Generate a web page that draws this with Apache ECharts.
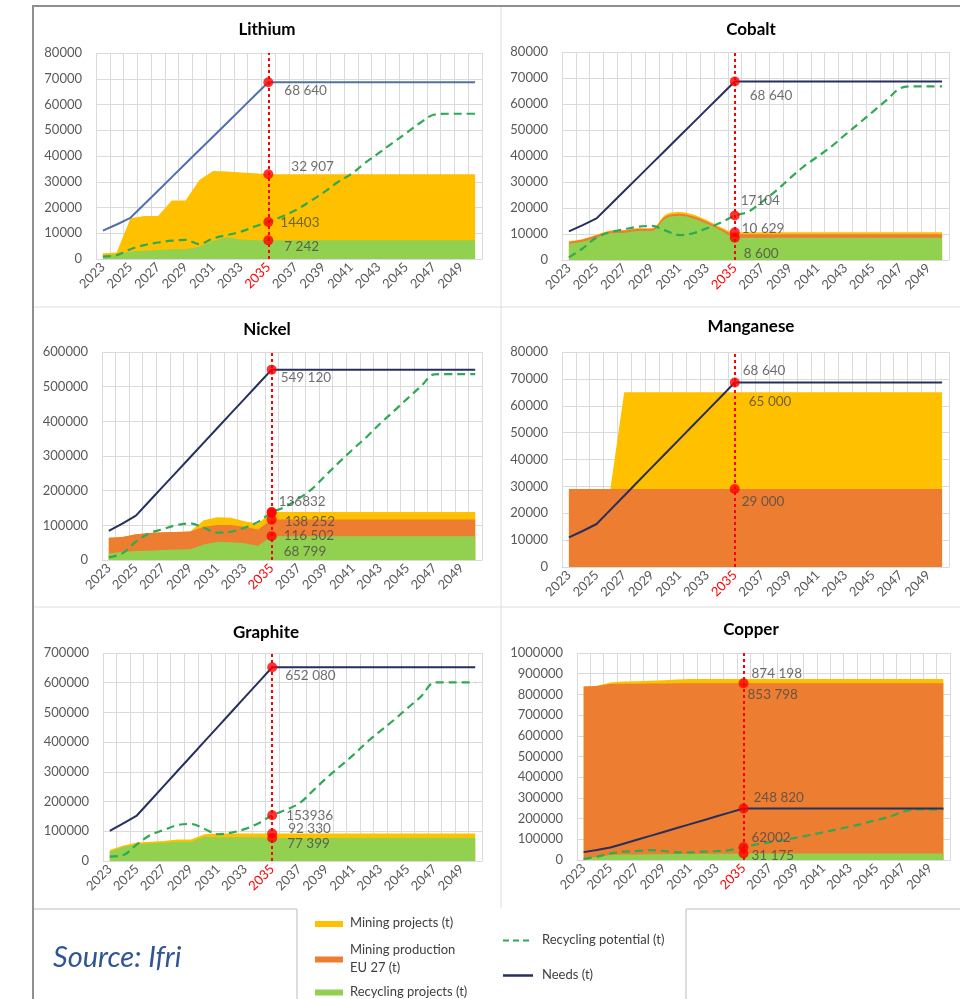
<!DOCTYPE html>
<html>
<head>
<meta charset="utf-8">
<title>Needs vs supply of critical metals, EU</title>
<script src="https://cdn.jsdelivr.net/npm/echarts@6/dist/echarts.min.js"></script>
<style>
  html, body { margin: 0; padding: 0; background: #ffffff; }
  #chart { width: 960px; height: 999px; }
</style>
</head>
<body>
<div id="chart"></div>
<script>
// ---- categories ----
const YEARS = ['2023','2024','2025','2026','2027','2028','2029','2030','2031','2032','2033','2034','2035','2036',
               '2037','2038','2039','2040','2041','2042','2043','2044','2045','2046','2047','2048','2049','2050'];
const MARK_YEAR = '2035';

// ---- Lithium (t) ----
const LI_NEEDS = [11000,13400,16000,21264,26528,31792,37056,42320,47584,52848,58112,63376,68640,68640,
                  68640,68640,68640,68640,68640,68640,68640,68640,68640,68640,68640,68640,68640,68640];
const LI_POTENTIAL = [900,1500,3800,5400,6400,7100,7400,5800,8000,9300,10600,12600,14403,16500,
                      19000,22300,25800,29700,33000,37200,41100,45000,48900,52800,56000,56400,56400,56400];
const LI_RECYCLING = [1500,1800,2900,3200,3500,3800,3800,4800,7100,8400,7600,7300,7242,7242,
                      7242,7242,7242,7242,7242,7242,7242,7242,7242,7242,7242,7242,7242,7242];
const LI_SUPPLY_TOP = [2200,2500,15800,16700,16700,22700,22700,30700,34200,34000,33600,33300,32907,32907,
                       32907,32907,32907,32907,32907,32907,32907,32907,32907,32907,32907,32907,32907,32907];

// ---- Cobalt (t) ----
const CO_NEEDS = [11000,13400,16000,21264,26528,31792,37056,42320,47584,52848,58112,63376,68640,68640,
                  68640,68640,68640,68640,68640,68640,68640,68640,68640,68640,68640,68640,68640,68640];
const CO_POTENTIAL = [1000,4500,8700,10700,11800,12800,13100,11300,9600,10300,12200,14400,17104,18600,
                      22500,26700,31500,36000,39800,43700,48200,52600,57100,61600,66100,66800,66800,66800];
const CO_RECYCLING = [6200,7100,8700,10300,10500,11200,11200,16000,17000,16000,13900,11300,8600,8600,
                      8600,8600,8600,8600,8600,8600,8600,8600,8600,8600,8600,8600,8600,8600];
const CO_EU_TOP = [7000,7900,9500,11100,11300,12000,12000,16800,17800,16800,14700,12100,9900,9900,
                   9900,9900,9900,9900,9900,9900,9900,9900,9900,9900,9900,9900,9900,9900];
const CO_SUPPLY_TOP = [7200,8100,9700,11300,11500,12200,12200,17500,18500,17500,15300,12600,10629,10629,
                       10629,10629,10629,10629,10629,10629,10629,10629,10629,10629,10629,10629,10629,10629];

// ---- Nickel (t) ----
const NI_NEEDS = [84000,105000,128000,170112,212224,254336,296448,338560,380672,422784,464896,507008,549120,549120,
                  549120,549120,549120,549120,549120,549120,549120,549120,549120,549120,549120,549120,549120,549120];
const NI_POTENTIAL = [7700,19000,52800,76800,89000,100800,105600,93000,78700,81600,93000,110000,136832,153600,
                      177600,206000,244800,283000,320000,355000,393600,429000,465600,501000,535700,536000,536000,536000];
const NI_RECYCLING = [19000,24000,26000,27000,29000,30000,31000,45000,53000,51000,48000,41000,68799,68799,
                      68799,68799,68799,68799,68799,68799,68799,68799,68799,68799,68799,68799,68799,68799];
const NI_EU_TOP = [64000,66000,74000,78000,80000,81000,82000,96000,101000,101000,96000,88000,116502,116502,
                   116502,116502,116502,116502,116502,116502,116502,116502,116502,116502,116502,116502,116502,116502];
const NI_SUPPLY_TOP = [64000,66000,74000,78000,80000,81000,82000,115000,123000,122000,112000,105600,138252,138252,
                       138252,138252,138252,138252,138252,138252,138252,138252,138252,138252,138252,138252,138252,138252];

// ---- Manganese (t) ----
const MN_NEEDS = [11000,13400,16000,21264,26528,31792,37056,42320,47584,52848,58112,63376,68640,68640,
                  68640,68640,68640,68640,68640,68640,68640,68640,68640,68640,68640,68640,68640,68640];
const MN_EU_TOP = [29000,29000,29000,29000,29000,29000,29000,29000,29000,29000,29000,29000,29000,29000,
                   29000,29000,29000,29000,29000,29000,29000,29000,29000,29000,29000,29000,29000,29000];
const MN_SUPPLY_TOP = [29000,29000,29000,29000,65000,65000,65000,65000,65000,65000,65000,65000,65000,65000,
                       65000,65000,65000,65000,65000,65000,65000,65000,65000,65000,65000,65000,65000,65000];

// ---- Graphite (t) ----
const GR_NEEDS = [101000,127000,153000,202908,252816,302724,352632,402540,452448,502356,552264,602172,652080,652080,
                  652080,652080,652080,652080,652080,652080,652080,652080,652080,652080,652080,652080,652080,652080];
const GR_POTENTIAL = [14600,20000,56000,87600,104500,121000,124700,108000,90000,95500,108000,127000,153936,172000,
                      194000,236000,278700,318000,357000,400000,438000,475000,514600,554000,601000,601000,601000,601000];
const GR_RECYCLING = [31000,48000,56000,59600,61800,65000,65000,82000,80000,80000,80000,80000,77399,77399,
                      77399,77399,77399,77399,77399,77399,77399,77399,77399,77399,77399,77399,77399,77399];
const GR_SUPPLY_TOP = [37000,52000,62000,65000,67000,72000,72000,90000,92330,92330,92330,92330,92330,92330,
                       92330,92330,92330,92330,92330,92330,92330,92330,92330,92330,92330,92330,92330,92330];

// ---- Copper (t) ----
const CU_NEEDS = [38000,48000,60000,78882,97764,116646,135528,154410,173292,192174,211056,229938,248820,248820,
                  248820,248820,248820,248820,248820,248820,248820,248820,248820,248820,248820,248820,248820,248820];
const CU_POTENTIAL = [5000,16000,32000,40000,43500,48000,43500,37000,37000,40000,43500,48000,62002,75800,
                      85500,96800,108000,121000,134000,148000,161000,177000,193500,209700,234000,244000,245000,245000];
const CU_RECYCLING = [8000,16000,24000,26000,27000,27500,28000,28500,29000,29500,30000,30500,31175,31175,
                      31175,31175,31175,31175,31175,31175,31175,31175,31175,31175,31175,31175,31175,31175];
const CU_EU_TOP = [838000,840000,850000,852000,852000,852500,853000,853500,853798,853798,853798,853798,853798,853798,
                   853798,853798,853798,853798,853798,853798,853798,853798,853798,853798,853798,853798,853798,853798];
const CU_SUPPLY_TOP = [838000,842000,858000,862000,864000,866000,868000,872000,874198,874198,874198,874198,874198,874198,
                       874198,874198,874198,874198,874198,874198,874198,874198,874198,874198,874198,874198,874198,874198];

// ---- styling ----
const FONT = 'Lato, "Open Sans", sans-serif';
const C_PROJECTS = '#FFC000';
const C_EU = '#ED7D31';
const C_RECYCLING = '#92D050';
const C_POTENTIAL = '#2EAA55';
const C_NEEDS = '#25305E';
const C_MARK = '#FF0000';
const C_GRID = '#DADADA';
const C_AXIS_TEXT = '#595959';
const IDX = YEARS.indexOf(MARK_YEAR);

// 2035 annotations: which series, how the number is written, where its text sits relative to the dot
const PANELS = [
  { title: 'Lithium', titleAt: [267, 21], grid: { left: 96, top: 53, width: 386, height: 206 },
    max: 80000, interval: 10000, needsColor: '#4F70AF',
    supply: LI_SUPPLY_TOP, eu: null, recycling: LI_RECYCLING, potential: LI_POTENTIAL, needs: LI_NEEDS,
    notes: [
      { src: LI_NEEDS, fmt: 'space', dx: 16, dy: 8, dot: true },
      { src: LI_SUPPLY_TOP, fmt: 'space', dx: 23, dy: -8, dot: true },
      { src: LI_POTENTIAL, fmt: 'plain', dx: 12, dy: 1, dot: true },
      { src: LI_RECYCLING, fmt: 'space', dx: 16, dy: 6, dot: true }
    ] },
  { title: 'Cobalt', titleAt: [751, 21], grid: { left: 562, top: 52, width: 387, height: 208 },
    max: 80000, interval: 10000, needsColor: C_NEEDS, smooth: 0.3,
    supply: CO_SUPPLY_TOP, eu: CO_EU_TOP, recycling: CO_RECYCLING, potential: CO_POTENTIAL, needs: CO_NEEDS,
    notes: [
      { src: CO_NEEDS, fmt: 'space', dx: 15, dy: 14, dot: true },
      { src: CO_POTENTIAL, fmt: 'plain', dx: 6, dy: -15, dot: true },
      { src: CO_SUPPLY_TOP, fmt: 'space', dx: 7, dy: -4, dot: true },
      { src: CO_RECYCLING, fmt: 'space', dx: 9, dy: 16, dot: true }
    ] },
  { title: 'Nickel', titleAt: [267, 321], grid: { left: 102, top: 352, width: 380, height: 208 },
    max: 600000, interval: 100000, needsColor: C_NEEDS,
    supply: NI_SUPPLY_TOP, eu: NI_EU_TOP, recycling: NI_RECYCLING, potential: NI_POTENTIAL, needs: NI_NEEDS,
    notes: [
      { src: NI_NEEDS, fmt: 'space', dx: 9, dy: 8, dot: true },
      { src: NI_POTENTIAL, fmt: 'plain', dx: 7, dy: -11, dot: true },
      { src: NI_SUPPLY_TOP, fmt: 'space', dx: 13, dy: 10, dot: true },
      { src: NI_EU_TOP, fmt: 'space', dx: 12, dy: 16, dot: true },
      { src: NI_RECYCLING, fmt: 'space', dx: 12, dy: 15, dot: true }
    ] },
  { title: 'Manganese', titleAt: [751, 318], grid: { left: 562, top: 352, width: 387, height: 215 },
    max: 80000, interval: 10000, needsColor: C_NEEDS,
    supply: MN_SUPPLY_TOP, eu: MN_EU_TOP, recycling: null, potential: null, needs: MN_NEEDS,
    notes: [
      { src: MN_NEEDS, fmt: 'space', dx: 8, dy: -12, dot: true },
      { src: MN_SUPPLY_TOP, fmt: 'space', dx: 14, dy: 9, dot: false },
      { src: MN_EU_TOP, fmt: 'space', dx: 7, dy: 13, dot: true }
    ] },
  { title: 'Graphite', titleAt: [266, 624], grid: { left: 103, top: 653, width: 379, height: 208 },
    max: 700000, interval: 100000, needsColor: C_NEEDS,
    supply: GR_SUPPLY_TOP, eu: null, recycling: GR_RECYCLING, potential: GR_POTENTIAL, needs: GR_NEEDS,
    notes: [
      { src: GR_NEEDS, fmt: 'space', dx: 13, dy: 8, dot: true },
      { src: GR_POTENTIAL, fmt: 'plain', dx: 14, dy: 0, dot: true },
      { src: GR_SUPPLY_TOP, fmt: 'space', dx: 16, dy: -5, dot: true },
      { src: GR_RECYCLING, fmt: 'space', dx: 15, dy: 6, dot: true }
    ] },
  { title: 'Copper', titleAt: [751, 621], grid: { left: 577, top: 653, width: 373, height: 207 },
    max: 1000000, interval: 100000, needsColor: C_NEEDS,
    supply: CU_SUPPLY_TOP, eu: CU_EU_TOP, recycling: CU_RECYCLING, potential: CU_POTENTIAL, needs: CU_NEEDS,
    notes: [
      { src: CU_SUPPLY_TOP, fmt: 'space', dx: 8, dy: -5, dot: false },
      { src: CU_EU_TOP, fmt: 'space', dx: 4, dy: 11, dot: true },
      { src: CU_NEEDS, fmt: 'space', dx: 10, dy: -11, dot: true },
      { src: CU_POTENTIAL, fmt: 'plain', dx: 8, dy: -10, dot: true },
      { src: CU_RECYCLING, fmt: 'space', dx: 8, dy: 2, dot: true }
    ] }
];

function formatValue(v, fmt) {
  const s = String(v);
  return fmt === 'space' ? s.replace(/\B(?=(\d{3})+(?!\d))/g, ' ') : s;
}

const grids = [], xAxes = [], yAxes = [], series = [], titles = [];

PANELS.forEach((p, i) => {
  grids.push(Object.assign({ containLabel: false }, p.grid));
  titles.push({
    text: p.title, left: p.titleAt[0], top: p.titleAt[1], textAlign: 'center', padding: 0,
    textStyle: { fontFamily: FONT, fontSize: 17, fontWeight: 'bold', color: '#000000' }
  });
  xAxes.push({
    type: 'category', gridIndex: i, data: YEARS, boundaryGap: true,
    axisLine: { show: true, lineStyle: { color: C_GRID } },
    axisTick: { show: false },
    splitLine: { show: true, interval: 0, lineStyle: { color: C_GRID, width: 1 } },
    axisLabel: {
      interval: 1, rotate: 45, margin: 6, fontFamily: FONT, fontSize: 13,
      color: (val) => (val === MARK_YEAR ? '#FF0000' : C_AXIS_TEXT)
    }
  });
  yAxes.push({
    type: 'value', gridIndex: i, min: 0, max: p.max, interval: p.interval,
    axisLine: { show: false }, axisTick: { show: false },
    splitLine: { show: true, lineStyle: { color: C_GRID, width: 1 } },
    axisLabel: { margin: 14, fontFamily: FONT, fontSize: 13, color: C_AXIS_TEXT, formatter: (v) => String(v) }
  });

  const base = { xAxisIndex: i, yAxisIndex: i, symbol: 'none', silent: true, animation: false };
  const area = (name, data, color, z) => Object.assign({}, base, {
    type: 'line', name, data, z, smooth: p.smooth || false,
    lineStyle: { width: 0 }, areaStyle: { color, opacity: 1 }
  });

  // layered bands: total supply, EU-27 production, recycling projects
  series.push(area('Mining projects (t)', p.supply, C_PROJECTS, 1));
  if (p.eu) series.push(area('Mining production EU 27 (t)', p.eu, C_EU, 2));
  if (p.recycling) series.push(area('Recycling projects (t)', p.recycling, C_RECYCLING, 3));

  if (p.potential) {
    series.push(Object.assign({}, base, {
      type: 'line', name: 'Recycling potential (t)', data: p.potential, z: 4, smooth: 0.35,
      lineStyle: { color: C_POTENTIAL, width: 2.2, type: [8, 5] }
    }));
  }

  series.push(Object.assign({}, base, {
    type: 'line', name: 'Needs (t)', data: p.needs, z: 5,
    lineStyle: { color: p.needsColor, width: 2 },
    markLine: {
      silent: true, symbol: 'none', animation: false,
      label: { show: false },
      lineStyle: { color: C_MARK, width: 2, type: [3, 3] },
      data: [{ xAxis: MARK_YEAR }]
    }
  }));

  // 2035 markers with their values
  series.push({
    type: 'scatter', xAxisIndex: i, yAxisIndex: i, z: 6, silent: true, animation: false,
    data: p.notes.map((n) => ({
      value: [MARK_YEAR, n.src[IDX]],
      symbolSize: n.dot ? 10 : 0.01,
      itemStyle: { color: C_MARK },
      label: {
        show: true, position: 'right', distance: 0,
        offset: [n.dot ? n.dx - 5 : n.dx, n.dy],
        formatter: formatValue(n.src[IDX], n.fmt),
        fontFamily: FONT, fontSize: 13.5, color: '#4A4A4A'
      }
    }))
  });
});

// panel frames and legend block
const frame = '#8F8F8F', sep = '#DEDEDE', box = '#D2D2D2';
const line = (x1, y1, x2, y2, stroke, w, dash) => ({
  type: 'line', silent: true,
  shape: { x1, y1, x2, y2 },
  style: { stroke, lineWidth: w, lineDash: dash || null }
});
const text = (x, y, t, extra) => ({
  type: 'text', silent: true, x, y,
  style: Object.assign({ text: t, fontFamily: FONT, fontSize: 13, fill: '#404040', verticalAlign: 'middle', align: 'left' }, extra || {})
});
const swatch = (x, y, color) => ({ type: 'rect', silent: true, shape: { x, y, width: 28, height: 6 }, style: { fill: color } });

const graphic = [
  line(33, 6, 960, 6, frame, 2),
  line(33, 5, 33, 999, frame, 2),
  line(34, 307, 960, 307, sep, 1),
  line(34, 607, 960, 607, sep, 1),
  line(501, 7, 501, 908, sep, 1),
  line(34, 909, 297, 909, box, 1.5),
  line(297, 909, 297, 999, box, 1.5),
  line(686, 909, 960, 909, box, 1.5),
  line(686, 909, 686, 999, box, 1.5),

  text(53, 958, 'Source: Ifri', { fontSize: 29, fontStyle: 'italic', fill: '#2F5597' }),

  swatch(315, 921, C_PROJECTS),
  text(350, 923, 'Mining projects (t)'),
  swatch(315, 956.5, C_EU),
  text(350, 959, 'Mining production\nEU 27 (t)', { lineHeight: 18 }),
  swatch(315, 989.5, C_RECYCLING),
  text(350, 992, 'Recycling projects (t)'),

  line(503, 940.5, 533, 940.5, C_POTENTIAL, 2, [6, 4]),
  text(542, 939.5, 'Recycling potential (t)'),
  line(503, 975.5, 533, 975.5, C_NEEDS, 2.5),
  text(542, 975, 'Needs (t)')
];

const chart = echarts.init(document.getElementById('chart'), null, { renderer: 'canvas' });
chart.setOption({
  backgroundColor: '#ffffff',
  animation: false,
  textStyle: { fontFamily: FONT },
  title: titles,
  grid: grids,
  xAxis: xAxes,
  yAxis: yAxes,
  series: series,
  graphic: graphic
});
</script>
</body>
</html>
